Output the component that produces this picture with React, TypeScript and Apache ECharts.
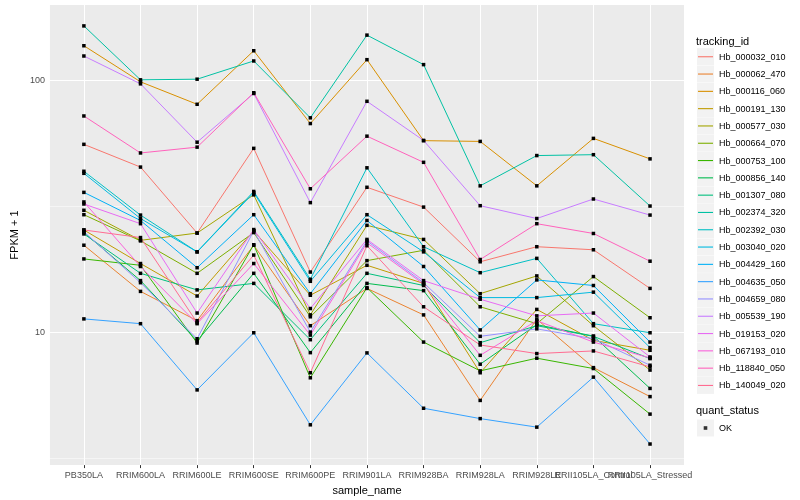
import React, { useEffect, useRef } from 'react';
import * as echarts from 'echarts';

const sampleNames = ['PB350LA', 'RRIM600LA', 'RRIM600LE', 'RRIM600SE', 'RRIM600PE', 'RRIM901LA', 'RRIM928BA', 'RRIM928LA', 'RRIM928LE', 'RRII105LA_Control', 'RRII105LA_Stressed'];

const trackingIds = ['Hb_000032_010', 'Hb_000062_470', 'Hb_000116_060', 'Hb_000191_130', 'Hb_000577_030', 'Hb_000664_070', 'Hb_000753_100', 'Hb_000856_140', 'Hb_001307_080', 'Hb_002374_320', 'Hb_002392_030', 'Hb_003040_020', 'Hb_004429_160', 'Hb_004635_050', 'Hb_004659_080', 'Hb_005539_190', 'Hb_019153_020', 'Hb_067193_010', 'Hb_118840_050', 'Hb_140049_020'];

const colors = ['#F8766D', '#EA8331', '#D89000', '#C09B00', '#A3A500', '#7CAE00', '#39B600', '#00BB4E', '#00BF7D', '#00C1A3', '#00BFC4', '#00BAE0', '#00B0F6', '#35A2FF', '#9590FF', '#C77CFF', '#E76BF3', '#FA62DB', '#FF62BC', '#FF6C91'];

const hb000032 = [55.5, 45.1, 24.7, 53.5, 17.3, 37.5, 31.3, 19.0, 21.8, 21.2, 14.9];
const hb000062 = [22.1, 14.5, 11.1, 22.1, 10.6, 14.9, 11.7, 5.36, 11.25, 7.23, 5.55];
const hb000116 = [136.5, 98.2, 80.0, 130.4, 67.1, 120.2, 57.4, 57.0, 38.0, 58.6, 48.6];
const hb000191 = [25.4, 18.7, 13.9, 25.2, 14.0, 18.4, 15.6, 6.9, 12.3, 9.27, 8.47];
const hb000577 = [30.4, 23.1, 24.7, 35.0, 11.7, 26.5, 23.3, 14.2, 16.7, 10.6, 7.07];
const hb000664 = [29.2, 23.0, 17.1, 24.8, 11.5, 19.2, 21.1, 12.6, 10.8, 16.6, 11.4];
const hb000753 = [19.5, 18.4, 9.05, 22.2, 6.59, 15.0, 9.13, 7.02, 7.88, 7.17, 4.73];
const hb000856 = [24.8, 16.0, 9.22, 17.1, 8.29, 15.6, 14.6, 7.46, 10.7, 9.64, 5.98];
const hb001307 = [24.5, 17.1, 14.7, 15.6, 9.33, 17.1, 15.3, 9.08, 10.6, 9.62, 7.85];
const hb002374 = [163.6, 100.0, 100.6, 118.8, 70.7, 150.4, 114.9, 38.0, 50.1, 50.5, 31.6];
const hb002392 = [43.4, 29.1, 20.8, 36.1, 16.2, 44.8, 21.8, 17.2, 19.6, 10.8, 9.94];
const hb003040 = [42.6, 28.2, 20.8, 35.7, 15.9, 29.2, 20.8, 13.7, 13.7, 14.4, 8.68];
const hb004429 = [35.8, 27.7, 18.0, 29.2, 14.2, 27.7, 18.2, 10.2, 16.1, 15.3, 9.13];
const hb004635 = [11.28, 10.8, 5.9, 9.94, 4.29, 8.27, 4.99, 4.54, 4.2, 6.63, 3.6];
const hb004659 = [25.0, 15.7, 9.41, 25.2, 10.0, 23.0, 15.7, 9.62, 10.3, 9.41, 7.39];
const hb005539 = [124.3, 96.4, 56.6, 88.3, 32.6, 82.2, 57.5, 31.7, 28.2, 33.7, 29.1];
const hb019153 = [32.2, 26.9, 11.9, 25.5, 12.4, 23.3, 16.0, 13.5, 11.6, 11.9, 7.97];
const hb067193 = [32.8, 18.2, 10.8, 18.7, 9.73, 22.6, 15.5, 8.09, 11.1, 9.13, 7.9];
const hb118840 = [71.9, 51.3, 54.1, 88.9, 37.0, 59.8, 47.1, 19.4, 26.9, 24.6, 19.1];
const hb140049 = [25.4, 23.7, 10.9, 20.2, 6.9, 22.0, 12.6, 8.89, 8.22, 8.42, 7.28];

const seriesValues = [hb000032, hb000062, hb000116, hb000191, hb000577, hb000664, hb000753, hb000856, hb001307, hb002374, hb002392, hb003040, hb004429, hb004635, hb004659, hb005539, hb019153, hb067193, hb118840, hb140049];

const yMajor = [10, 100];
const yMinor = [3.1623, 31.623];
const FONT = 'Liberation Sans';

export default function App() {
  const ref = useRef<HTMLDivElement>(null);
  useEffect(() => {
    if (!ref.current) return;
    const chart = echarts.init(ref.current, null, { renderer: 'svg' });
    const idx = sampleNames.map((_, i) => i);
    // labels split over two coincident axes so that the overlapping pair both stay visible
    const idxMain = idx.filter((i) => i !== 9);
    const idxAlt = [9];
    const legendTop = 48.2;
    const legendStep = 17.3;
    const gridLines: any[] = [
      ...idx.map((i) => ({ xAxis: i, lineStyle: { width: 1.07 } })),
      ...yMajor.map((v) => ({ yAxis: v, lineStyle: { width: 1.07 } })),
      ...yMinor.map((v) => ({ yAxis: v, lineStyle: { width: 0.53 } })),
    ];
    const labelStyle = {
      formatter: (v: number) => sampleNames[Math.round(v)],
      color: '#4D4D4D',
      fontSize: 9,
      margin: 5,
      fontFamily: FONT,
      showMinLabel: true,
      showMaxLabel: true,
      hideOverlap: false,
    };
    const option: any = {
      animation: false,
      textStyle: { fontFamily: FONT },
      grid: { left: 40, right: 116, top: 5, bottom: 32, show: true, backgroundColor: '#EBEBEB', borderWidth: 0, containLabel: false },
      xAxis: [
        {
          type: 'value',
          min: -0.6,
          max: 10.6,
          position: 'bottom',
          name: 'sample_name',
          nameLocation: 'middle',
          nameGap: 15,
          nameTextStyle: { fontSize: 11, color: '#000', fontFamily: FONT },
          axisLine: { show: false },
          splitLine: { show: false },
          axisTick: { show: true, customValues: idx, length: 3, lineStyle: { color: '#333', width: 1 } },
          axisLabel: { ...labelStyle, customValues: idxMain },
        },
        {
          type: 'value',
          min: -0.6,
          max: 10.6,
          position: 'bottom',
          offset: 0,
          axisLine: { show: false },
          splitLine: { show: false },
          axisTick: { show: false },
          axisLabel: { ...labelStyle, customValues: idxAlt },
        },
      ],
      yAxis: {
        type: 'log',
        logBase: 10,
        min: 2.97,
        max: 198,
        name: 'FPKM + 1',
        nameLocation: 'middle',
        nameGap: 22,
        nameRotate: 90,
        nameTextStyle: { fontSize: 11, color: '#000', fontFamily: FONT },
        axisLine: { show: false },
        splitLine: { show: false },
        minorSplitLine: { show: false },
        axisTick: { show: true, customValues: yMajor, length: 3, lineStyle: { color: '#333', width: 1 } },
        axisLabel: { customValues: yMajor, formatter: (v: number) => String(Math.round(v)), color: '#4D4D4D', fontSize: 9, margin: 5, fontFamily: FONT, showMinLabel: true, showMaxLabel: true },
      },
      legend: [
        {
          orient: 'vertical',
          left: 697,
          top: legendTop,
          padding: 0,
          itemGap: legendStep - 17,
          itemWidth: 17,
          itemHeight: 17,
          selectedMode: false,
          icon: 'path://M0,0L0,0M17,17L17,17M1,8h15v1.1h-15z',
          itemStyle: { borderWidth: 0 },
          textStyle: { fontSize: 9, color: '#000', fontFamily: FONT },
          data: trackingIds.map((id, i) => ({ name: id, itemStyle: { color: colors[i], borderWidth: 0 } })),
        },
        {
          orient: 'vertical',
          left: 697,
          top: 419.5,
          padding: 0,
          itemWidth: 17,
          itemHeight: 17,
          selectedMode: false,
          icon: 'path://M0,0L0,0M17,17L17,17M6.7,6.7h3.6v3.6h-3.6z',
          textStyle: { fontSize: 9, color: '#000', fontFamily: FONT },
          data: [{ name: 'OK', itemStyle: { color: '#000', borderWidth: 0 } }],
        },
      ],
      graphic: [
        { type: 'text', x: 696, y: 40.7, z: 0, style: { text: 'tracking_id', fontSize: 11, fill: '#000', verticalAlign: 'middle', fontFamily: FONT } },
        ...trackingIds.map((_, i) => ({ type: 'rect', z: 0, shape: { x: 697, y: legendTop + i * legendStep, width: 17, height: 17 }, style: { fill: '#F2F2F2' } })),
        { type: 'text', x: 696, y: 410, z: 0, style: { text: 'quant_status', fontSize: 11, fill: '#000', verticalAlign: 'middle', fontFamily: FONT } },
        { type: 'rect', z: 0, shape: { x: 697, y: 419.5, width: 17, height: 17 }, style: { fill: '#F2F2F2' } },
      ],
      series: [
        {
          type: 'line',
          name: '__grid',
          data: [[0, 10]],
          symbol: 'none',
          lineStyle: { opacity: 0 },
          silent: true,
          z: 1,
          markLine: {
            z: 1,
            silent: true,
            symbol: ['none', 'none'],
            label: { show: false },
            lineStyle: { color: '#FFFFFF', type: 'solid' },
            emphasis: { disabled: true },
            data: gridLines,
          },
        },
        ...trackingIds.map((id, i) => ({
          type: 'line',
          name: id,
          z: 2,
          data: seriesValues[i].map((v, j) => [j, v]),
          symbol: 'rect',
          symbolSize: 3.5,
          showSymbol: true,
          itemStyle: { color: '#000' },
          lineStyle: { color: colors[i], width: 1 },
          emphasis: { disabled: true },
        })),
        { type: 'scatter', name: 'OK', data: [], symbol: 'rect', itemStyle: { color: '#000' } },
      ],
    };
    chart.setOption(option);
    return () => chart.dispose();
  }, []);
  return <div ref={ref} style={{ position: 'fixed', left: 0, top: 0, width: 800, height: 500 }} />;
}
